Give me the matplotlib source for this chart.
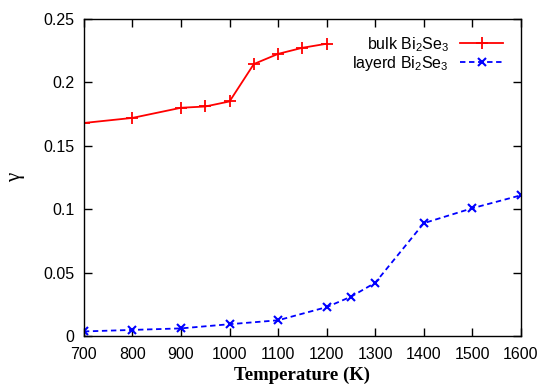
import numpy as np
import matplotlib
matplotlib.use("Agg")
import matplotlib.pyplot as plt

# bulk Bi2Se3
t_bulk = [700, 800, 900, 950, 1000, 1050, 1100, 1150, 1200]
g_bulk = [0.168, 0.172, 0.180, 0.181, 0.185, 0.2145, 0.2225, 0.2273, 0.2305]

# layerd Bi2Se3
t_lay = [700, 800, 900, 1000, 1100, 1200, 1250, 1300, 1400, 1500, 1600]
g_lay = [0.0036, 0.0048, 0.006, 0.0093, 0.0124, 0.0228, 0.031, 0.042, 0.089, 0.1008, 0.111]

xticks = [700, 800, 900, 1000, 1100, 1200, 1300, 1400, 1500, 1600]
yticks = [0, 0.05, 0.1, 0.15, 0.2, 0.25]
ytick_labels = ["0", "0.05", "0.1", "0.15", "0.2", "0.25"]

plt.rcParams['font.family'] = ['Liberation Sans', 'DejaVu Sans']
plt.rcParams['mathtext.fontset'] = 'custom'
plt.rcParams['mathtext.rm'] = 'Liberation Sans'

fig = plt.figure(figsize=(5.41, 3.84), dpi=100)
ax = fig.add_axes([0.155, 0.125, 0.808, 0.8255])

ax.plot(t_bulk, g_bulk, color='#ff0000', lw=1.3, marker='+', ms=8, mew=1.3,
        label=r'bulk Bi$_\mathrm{2}$Se$_\mathrm{3}$')
ax.plot(t_lay, g_lay, color='#0000ff', lw=1.3, ls=(0, (3, 2)), marker='x', ms=6, mew=1.5,
        label=r'layerd Bi$_\mathrm{2}$Se$_\mathrm{3}$')

ax.set_xlim(700, 1600)
ax.set_ylim(0, 0.25)
ax.set_xticks(xticks)
ax.set_yticks(yticks)
ax.set_yticklabels(ytick_labels)
ax.tick_params(direction='in', top=True, right=True, length=6, width=1, labelsize=11.5)
ax.tick_params(axis='x', pad=8)
ax.tick_params(axis='y', pad=7)
for s in ax.spines.values():
    s.set_linewidth(1.0)

ax.set_xlabel('Temperature (K)', family='Liberation Serif', fontweight='bold', fontsize=13.5, labelpad=3)
ax.set_ylabel('γ', family='Liberation Serif', fontsize=15, rotation=90)
ax.yaxis.set_label_coords(-0.135, 0.5)

ax.legend(loc='upper right', bbox_to_anchor=(0.985, 0.985), frameon=False, markerfirst=False,
          fontsize=11.5, handlelength=2.7, handletextpad=0.7, labelspacing=0.0, borderaxespad=0.3)

fig.savefig('out.png', dpi=100)
